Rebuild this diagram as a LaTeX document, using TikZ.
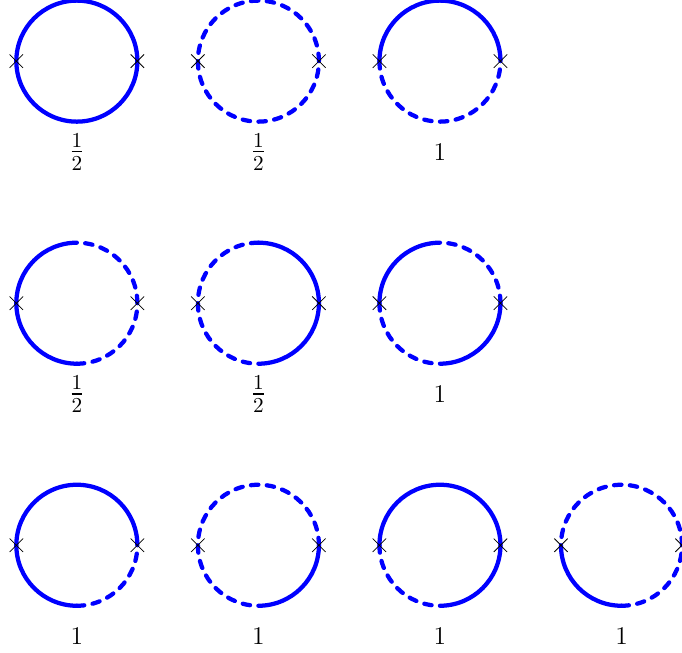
\documentclass[tikz,border=0pt]{standalone}
\usetikzlibrary{shapes.misc}
\usepackage{amsmath,amssymb}
\definecolor{loopblue}{HTML}{0000FF}
\tikzset{
  full/.style={line width=2pt,loopblue,line cap=round},
  dsh/.style={line width=2pt,loopblue,line cap=round,dash pattern=on 3.5pt off 3.95pt},
  xmark/.style={draw=black,cross out,line width=0.35pt,inner sep=0pt,minimum size=0.21cm},
  weight/.style={font=\large}
}
\newcommand{\half}{\Large$\frac{1}{2}$}
\begin{document}
\begin{tikzpicture}
  \useasboundingbox (-1.27,1.01) rectangle (10,-9.78);
  % one entry per loop: centre, arcs (from/to/style), weight
  \foreach \cx/\cy/\segs/\val in {
    0/0/{0/360/full}/{\half},
    3/0/{0/180/dsh,180/360/dsh}/{\half},
    6/0/{0/180/full,180/360/dsh}/{$1$},
    0/-4/{90/270/full,270/450/dsh}/{\half},
    3/-4/{90/270/dsh,270/450/full}/{\half},
    6/-4/{0/90/dsh,90/180/full,180/270/dsh,270/360/full}/{$1$},
    0/-8/{0/180/full,180/270/full,270/360/dsh}/{$1$},
    3/-8/{0/180/dsh,180/270/dsh,270/360/full}/{$1$},
    6/-8/{0/180/full,180/270/dsh,270/360/full}/{$1$},
    9/-8/{0/180/dsh,180/270/full,270/360/dsh}/{$1$}} {
    \foreach \from/\to/\kind in \segs
      \draw[\kind] (\cx,\cy) ++(\from:1) arc (\from:\to:1);
    \node[xmark] (left-\cx-\cy) at (\cx-1,\cy) {};
    \node[xmark] (right-\cx-\cy) at (\cx+1,\cy) {};
    \node[weight] (val-\cx-\cy) at (\cx,\cy-1.5) {\val};
  }
\end{tikzpicture}
\end{document}
